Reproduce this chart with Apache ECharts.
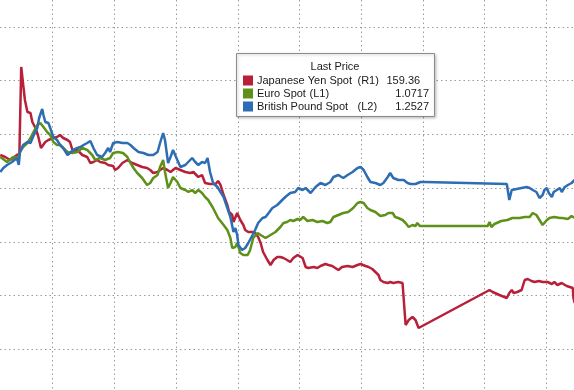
<!DOCTYPE html>
<html>
<head>
<meta charset="utf-8">
<script src="https://cdn.jsdelivr.net/npm/echarts@6/dist/echarts.min.js"></script>
<style>
html,body{margin:0;padding:0;background:#fff;overflow:hidden;width:574px;height:390px;position:relative;}
#chart{position:absolute;left:-9px;top:-27px;width:617px;height:430px;}
</style>
</head>
<body>
<div id="chart"></div>
<script>
// ---- Data (time in arbitrary session units, 10 units per vertical grid line) ----
const seriesNames = ['Japanese Yen Spot', 'Euro Spot', 'British Pound Spot'];
const axisTags = ['(R1)', '(L1)', '(L2)'];
const lastPrices = ['159.36', '1.0717', '1.2527'];
const legendTitle = 'Last Price';

const yenTime = [1.5,2.3,3.1,3.8,4.2,4.6,4.9,5.2,5.5,5.9,6.4,6.7,7.2,7.6,8.1,8.8,9.3,10.1,10.7,11.2,11.7,12.4,12.8,13.3,14.0,14.8,15.6,16.1,16.6,17.2,17.7,18.5,19.0,19.8,20.1,20.6,21.3,22.1,22.9,23.7,24.5,25.3,25.8,26.3,27.0,27.4,27.9,28.6,29.1,29.9,30.7,31.5,32.3,32.8,33.6,34.2,34.7,35.5,36.4,36.8,37.2,37.7,38.3,38.6,39.1,39.3,39.9,40.4,40.9,41.2,41.7,42.4,42.8,43.3,43.7,44.1,44.8,45.3,45.8,46.4,46.9,47.4,48.0,48.5,49.0,49.7,50.0,50.5,51.0,51.4,52.3,52.9,53.4,54.2,54.7,55.3,55.8,56.3,56.9,57.8,58.6,59.4,59.9,60.7,61.2,61.8,62.3,62.8,63.1,63.6,64.3,64.7,65.2,66.0,66.7,66.9,67.2,67.7,68.3,68.8,69.3,69.6,80.8,81.3,82.4,83.6,84.0,84.4,84.7,85.3,86.0,86.5,87.0,87.6,88.1,88.8,89.4,90.2,90.9,91.3,91.8,92.5,93.3,93.8,94.3,94.4,94.6];
const yenValue = [154.92,154.98,155.07,154.98,154.92,154.89,152.28,152.79,153.27,153.63,153.66,153.93,154.11,154.32,154.71,154.53,154.47,154.41,154.38,154.32,154.41,154.47,154.53,154.83,154.77,154.92,154.98,155.16,155.13,155.07,155.13,155.16,155.22,155.25,155.37,155.31,155.16,155.07,155.16,155.22,155.28,155.31,155.37,155.46,155.43,155.37,155.31,155.37,155.43,155.31,155.37,155.43,155.46,155.43,155.58,155.52,155.76,155.79,155.79,155.70,155.82,156.12,156.42,156.63,156.72,156.93,156.66,156.87,157.02,157.17,157.23,157.23,157.26,157.38,157.56,157.83,158.07,158.22,158.07,157.98,157.98,158.01,158.07,158.13,158.01,157.92,157.86,158.01,158.28,158.31,158.28,158.31,158.25,158.19,158.22,158.25,158.31,158.37,158.28,158.25,158.28,158.22,158.19,158.25,158.28,158.34,158.43,158.52,158.67,158.73,158.76,158.73,158.76,158.73,158.76,158.82,160.02,159.87,159.78,159.87,160.11,160.17,158.97,159.03,159.12,159.21,159.06,158.97,159.06,159.03,158.97,158.67,158.64,158.70,158.73,158.70,158.73,158.73,158.79,158.73,158.82,158.76,158.85,158.88,158.91,159.21,159.36];

const eurTime = [1.5,2.6,3.6,4.4,4.7,5.2,5.9,6.4,6.8,7.5,8.0,8.5,9.1,9.6,10.1,10.7,11.2,11.7,12.4,13.2,14.0,14.8,15.6,16.4,16.9,17.7,18.5,19.3,19.8,20.6,21.4,22.1,22.6,23.1,23.7,24.5,25.3,25.8,26.3,27.0,27.4,27.9,28.2,28.7,29.1,29.5,30.2,30.7,31.5,32.0,32.6,33.1,33.6,34.2,34.7,35.2,35.9,36.4,36.8,37.7,38.3,38.8,39.1,39.6,39.9,40.4,40.9,41.6,42.0,42.5,43.2,43.7,44.5,45.3,46.1,46.9,47.4,48.0,48.5,49.0,49.7,50.1,50.6,51.3,52.1,52.9,53.7,54.5,55.0,55.5,56.3,57.1,57.9,58.7,59.4,59.9,60.4,61.0,61.5,62.3,63.1,63.9,64.4,65.1,65.5,66.0,66.7,67.2,67.7,68.3,68.8,69.1,69.5,69.9,80.5,80.8,81.1,81.6,81.9,82.7,83.7,84.5,85.7,86.5,87.3,87.8,88.4,88.9,89.4,90.1,90.5,91.3,92.2,92.6,93.5,94.1,94.6];
const eurValue = [1.0778,1.0773,1.0778,1.0777,1.0783,1.0788,1.0792,1.0797,1.0802,1.0810,1.0812,1.0808,1.0803,1.0800,1.0793,1.0790,1.0790,1.0787,1.0783,1.0782,1.0783,1.0787,1.0785,1.0780,1.0775,1.0777,1.0775,1.0777,1.0782,1.0783,1.0782,1.0778,1.0772,1.0767,1.0762,1.0757,1.0750,1.0752,1.0757,1.0760,1.0768,1.0775,1.0763,1.0747,1.0752,1.0758,1.0753,1.0747,1.0745,1.0743,1.0745,1.0742,1.0745,1.0742,1.0738,1.0735,1.0728,1.0722,1.0717,1.0710,1.0705,1.0697,1.0687,1.0688,1.0692,1.0682,1.0680,1.0680,1.0685,1.0697,1.0702,1.0700,1.0697,1.0700,1.0703,1.0708,1.0712,1.0713,1.0715,1.0714,1.0716,1.0715,1.0718,1.0714,1.0715,1.0713,1.0714,1.0712,1.0713,1.0718,1.0720,1.0722,1.0723,1.0727,1.0732,1.0733,1.0732,1.0727,1.0725,1.0723,1.0719,1.0720,1.0722,1.0722,1.0718,1.0717,1.0715,1.0712,1.0708,1.0710,1.0709,1.0712,1.0709,1.0709,1.0709,1.0713,1.0708,1.0711,1.0713,1.0714,1.0715,1.0717,1.0717,1.0718,1.0718,1.0722,1.0720,1.0715,1.0710,1.0715,1.0717,1.0718,1.0717,1.0717,1.0716,1.0719,1.0717];

const gbpTime = [1.5,2.0,2.6,3.4,4.2,4.5,4.7,5.2,5.9,6.4,6.8,7.5,7.8,8.3,8.5,8.8,9.3,9.6,10.1,10.7,11.2,11.7,12.4,12.8,13.3,14.0,14.5,15.0,15.6,16.1,16.6,17.2,18.0,18.5,19.0,19.3,19.8,20.5,21.3,22.1,22.6,23.1,23.9,24.7,25.5,26.3,27.0,27.4,27.9,28.2,28.7,29.1,29.5,30.2,30.7,31.5,32.6,33.1,33.6,34.2,34.7,35.1,35.5,36.0,36.7,37.2,37.7,38.3,38.8,39.3,39.6,39.9,40.1,40.7,41.2,41.7,42.4,42.8,43.3,44.0,44.5,45.0,45.6,46.4,47.2,47.7,48.5,49.3,49.8,50.5,51.0,51.8,52.6,53.4,54.2,55.0,55.5,56.3,57.1,57.8,58.6,59.4,59.9,60.4,61.0,61.5,62.3,63.1,63.6,64.3,64.7,65.2,66.0,66.9,67.5,68.0,68.8,69.6,70.4,83.6,84.0,84.4,85.2,86.0,86.8,87.3,87.8,88.4,88.9,89.4,89.7,90.1,90.4,90.9,91.2,91.7,92.2,92.5,93.0,93.5,94.1,94.6];
const gbpValue = [1.2545,1.2553,1.2559,1.2565,1.2573,1.2559,1.2585,1.2599,1.2605,1.2603,1.2615,1.2633,1.2653,1.2671,1.2659,1.2645,1.2643,1.2633,1.2615,1.2609,1.2599,1.2593,1.2579,1.2583,1.2589,1.2593,1.2595,1.2599,1.2603,1.2607,1.2593,1.2579,1.2575,1.2583,1.2593,1.2585,1.2603,1.2605,1.2603,1.2603,1.2599,1.2593,1.2585,1.2583,1.2579,1.2579,1.2585,1.2603,1.2623,1.2609,1.2563,1.2575,1.2589,1.2569,1.2555,1.2559,1.2573,1.2565,1.2559,1.2565,1.2563,1.2573,1.2545,1.2523,1.2515,1.2505,1.2495,1.2473,1.2455,1.2425,1.2433,1.2419,1.2399,1.2389,1.2393,1.2403,1.2419,1.2429,1.2443,1.2453,1.2455,1.2463,1.2473,1.2479,1.2489,1.2495,1.2503,1.2505,1.2513,1.2509,1.2513,1.2503,1.2515,1.2523,1.2519,1.2525,1.2535,1.2539,1.2533,1.2539,1.2545,1.2553,1.2555,1.2549,1.2535,1.2525,1.2523,1.2519,1.2523,1.2535,1.2543,1.2533,1.2529,1.2529,1.2523,1.2521,1.2521,1.2525,1.2525,1.2521,1.2489,1.2509,1.2511,1.2513,1.2515,1.2513,1.2509,1.2505,1.2493,1.2499,1.2509,1.2513,1.2503,1.2495,1.2505,1.2509,1.2513,1.2505,1.2515,1.2519,1.2523,1.2529];

const colors = ['#b8203a', '#5e9119', '#2d6db3'];

const zip = (t, v) => t.map((x, i) => [x, v[i]]);

const chart = echarts.init(document.getElementById('chart'), null, {renderer: 'canvas'});

const gridLine = {show: true, lineStyle: {color: '#9a9a9a', width: 1, type: [1.5, 3]}};

// container is offset by (-9, -27) relative to the window
const OX = 9, OY = 27;
const legendFont = '11px "Liberation Sans", Arial, sans-serif';
const legendGraphics = [
  {type: 'rect', shape: {x: 236.5 + OX, y: 53.5 + OY, width: 198, height: 63},
   style: {fill: '#fff', stroke: '#8c8c8c', lineWidth: 1, shadowBlur: 3, shadowColor: 'rgba(0,0,0,0.25)', shadowOffsetX: 1, shadowOffsetY: 1}, z: 100},
  {type: 'text', x: 335 + OX, y: 67 + OY, style: {text: legendTitle, font: legendFont, fill: '#1a1a1a', align: 'center', verticalAlign: 'middle'}, z: 101}
];
const rowY = [80.5, 93.5, 106.5];
const tagX = [357.5, 309.5, 357.5];
for (let i = 0; i < 3; i++) {
  legendGraphics.push({type: 'rect', shape: {x: 243 + OX, y: rowY[i] - 5 + OY, width: 10, height: 10}, style: {fill: colors[i]}, z: 101});
  legendGraphics.push({type: 'text', x: 257 + OX, y: rowY[i] + OY, style: {text: seriesNames[i], font: legendFont, fill: '#1a1a1a', verticalAlign: 'middle'}, z: 101});
  legendGraphics.push({type: 'text', x: tagX[i] + OX, y: rowY[i] + OY, style: {text: axisTags[i], font: legendFont, fill: '#1a1a1a', verticalAlign: 'middle'}, z: 101});
  if (i === 0) {
    legendGraphics.push({type: 'text', x: 386.5 + OX, y: rowY[i] + OY, style: {text: lastPrices[i], font: legendFont, fill: '#1a1a1a', verticalAlign: 'middle'}, z: 101});
  } else {
    legendGraphics.push({type: 'text', x: 429 + OX, y: rowY[i] + OY, style: {text: lastPrices[i], font: legendFont, fill: '#1a1a1a', align: 'right', verticalAlign: 'middle'}, z: 101});
  }
}

chart.setOption({
  animation: false,
  backgroundColor: '#fff',
  grid: {left: 0, right: 0, top: 0, bottom: 0, containLabel: false},
  xAxis: {type: 'value', min: 0, max: 100, interval: 10,
    axisLine: {show: false}, axisTick: {show: false}, axisLabel: {show: false}, splitLine: gridLine},
  yAxis: [
    {type: 'value', min: 0, max: 8, interval: 1, axisLine: {show: false}, axisTick: {show: false}, axisLabel: {show: false}, splitLine: gridLine},
    {type: 'value', show: false, inverse: true, min: 149.46, max: 162.36, splitLine: {show: false}},
    {type: 'value', show: false, min: 1.0532, max: 1.0962, splitLine: {show: false}},
    {type: 'value', show: false, min: 1.2083, max: 1.2943, splitLine: {show: false}}
  ],
  series: [
    {name: seriesNames[1], type: 'line', yAxisIndex: 2, data: zip(eurTime, eurValue), symbol: 'none', lineStyle: {color: colors[1], width: 2.5}, z: 3},
    {name: seriesNames[2], type: 'line', yAxisIndex: 3, data: zip(gbpTime, gbpValue), symbol: 'none', lineStyle: {color: colors[2], width: 2.5}, z: 4},
    {name: seriesNames[0], type: 'line', yAxisIndex: 1, data: zip(yenTime, yenValue), symbol: 'none', lineStyle: {color: colors[0], width: 2.5}, z: 2}
  ],
  graphic: legendGraphics
});
</script>
</body>
</html>
